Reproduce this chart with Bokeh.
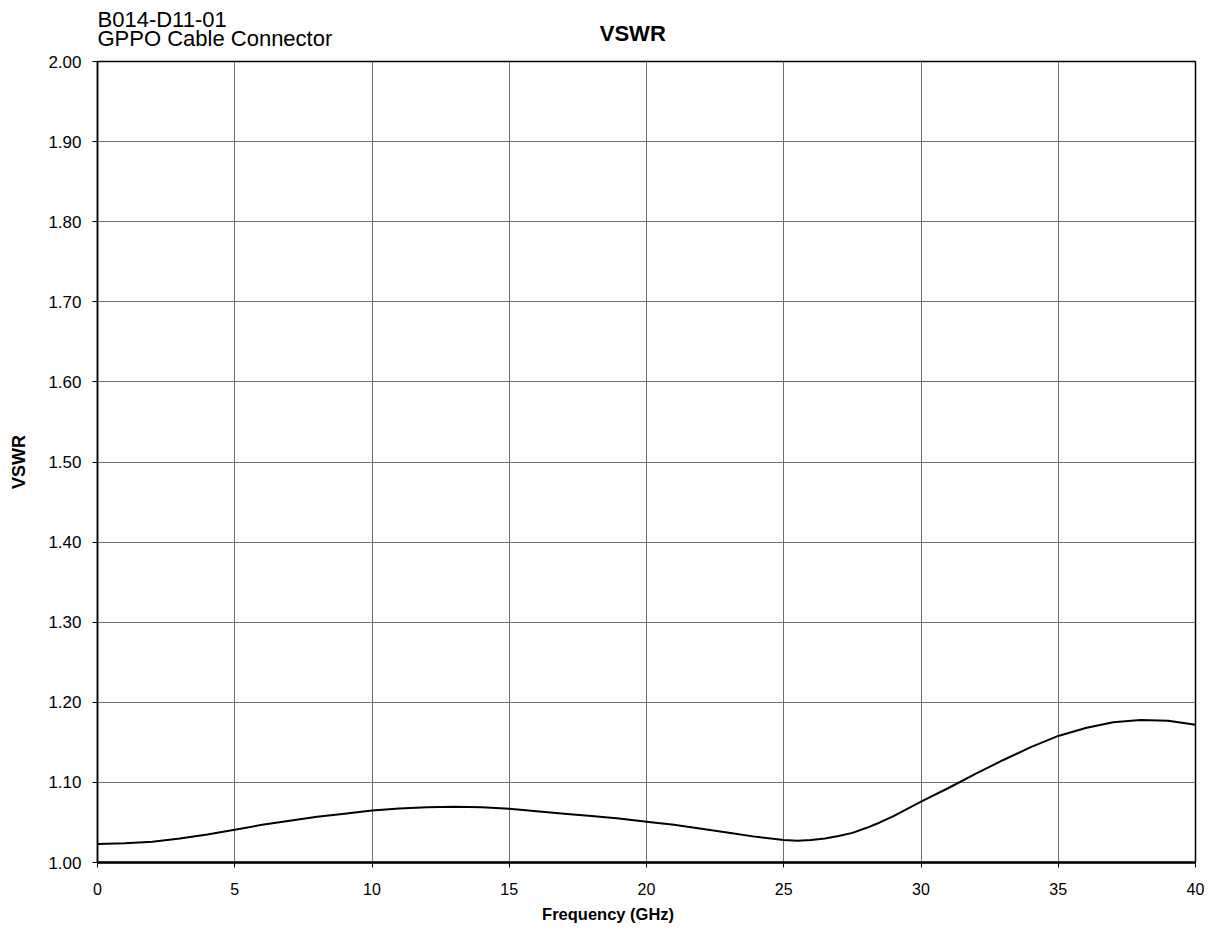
from bokeh.plotting import figure
from bokeh.layouts import column
from bokeh.models import FixedTicker, NumeralTickFormatter, Range1d
from bokeh.core.properties import value
from bokeh.embed import file_html
from bokeh.resources import INLINE

# Data
freq_ghz = [0, 1, 2, 3, 4, 5, 6, 7, 8, 9, 10, 11, 12, 13, 14, 15, 16, 17, 18, 19,
            20, 21, 22, 23, 24, 25, 25.5, 26, 26.5, 27, 27.5, 28, 28.5, 29, 29.5,
            30, 31, 32, 33, 34, 35, 36, 37, 38, 39, 40]
vswr = [1.023, 1.024, 1.026, 1.030, 1.035, 1.041, 1.047, 1.052, 1.057, 1.061,
        1.065, 1.0675, 1.069, 1.0695, 1.069, 1.067, 1.064, 1.061, 1.058, 1.055,
        1.051, 1.047, 1.042, 1.037, 1.032, 1.028, 1.027, 1.028, 1.030, 1.033,
        1.037, 1.043, 1.050, 1.058, 1.067, 1.076, 1.093, 1.111, 1.128, 1.144,
        1.158, 1.168, 1.175, 1.178, 1.177, 1.172]
x_ticks = [0, 5, 10, 15, 20, 25, 30, 35, 40]
y_ticks = [1.0, 1.1, 1.2, 1.3, 1.4, 1.5, 1.6, 1.7, 1.8, 1.9, 2.0]
title_text = "VSWR"
subtitle_lines = ["B014-D11-01", "GPPO Cable Connector"]
x_label = "Frequency (GHz)"
y_label = "VSWR"

FONT = "Liberation Sans"
W = 1207
LEFT = 97
RIGHT = 12
HEADER_H = 51
MAIN_TOP = 10


def blank(height):
    f = figure(width=W, height=height, output_backend="svg", toolbar_location=None,
               x_range=Range1d(0, 40), y_range=Range1d(0, height),
               x_axis_location=None, y_axis_location=None,
               min_border_left=LEFT, min_border_right=RIGHT,
               min_border_top=0, min_border_bottom=0)
    f.outline_line_color = None
    f.xgrid.visible = False
    f.ygrid.visible = False
    f.background_fill_color = "white"
    f.border_fill_color = "white"
    return f


# ---- header (title + subtitle lines) ----
header = blank(HEADER_H)
header.text(x=[0], y=[32], text=[subtitle_lines[0]], text_font=value(FONT),
            text_font_size="22px", text_align="left", text_baseline="alphabetic",
            text_color="black")
header.text(x=[0], y=[13], text=[subtitle_lines[1]], text_font=value(FONT),
            text_font_size="22px", text_align="left", text_baseline="alphabetic",
            text_color="black")
header.text(x=[19.5], y=[18], text=[title_text], text_font=value(FONT),
            text_font_style="bold", text_font_size="22px", text_align="center",
            text_baseline="alphabetic", text_color="black")

# ---- main plot ----
p = figure(width=W, height=MAIN_TOP + 801 + 42, output_backend="svg",
           toolbar_location=None,
           x_range=Range1d(0, 40), y_range=Range1d(1.0, 2.0),
           min_border_left=LEFT, min_border_top=MAIN_TOP, min_border_bottom=42,
           min_border_right=RIGHT)
p.background_fill_color = "white"
p.border_fill_color = "white"
p.outline_line_color = "black"
p.outline_line_width = 1.5

p.line(freq_ghz, vswr, line_color="black", line_width=2, line_join="round")

for g in (p.xgrid, p.ygrid):
    g.grid_line_color = "#6e6e6e"
    g.grid_line_width = 1
p.xgrid.ticker = FixedTicker(ticks=x_ticks)
p.ygrid.ticker = FixedTicker(ticks=y_ticks)

p.xaxis.ticker = FixedTicker(ticks=x_ticks)
p.yaxis.ticker = FixedTicker(ticks=y_ticks)
p.yaxis.formatter = NumeralTickFormatter(format="0.00")
for ax in (p.xaxis[0], p.yaxis[0]):
    ax.axis_line_color = "black"
    ax.major_tick_line_color = "black"
    ax.major_tick_out = 5
    ax.major_tick_in = 0
    ax.minor_tick_line_color = None
    ax.major_label_text_font = FONT
    ax.major_label_text_color = "black"
p.xaxis.axis_line_width = 2.5
p.yaxis.axis_line_width = 1.5
p.xaxis.major_label_text_font_size = "16px"
p.yaxis.major_label_text_font_size = "17px"
p.xaxis.major_label_standoff = 15
p.yaxis.major_label_standoff = 11

p.yaxis.axis_label = y_label
p.yaxis.axis_label_text_font = FONT
p.yaxis.axis_label_text_font_style = "bold"
p.yaxis.axis_label_text_font_size = "18px"
p.yaxis.axis_label_text_color = "black"
p.yaxis.axis_label_standoff = 16

# ---- footer (x axis label, off-centre as in the reference) ----
footer = blank(30)
footer.text(x=[18.6], y=[21], text=[x_label], text_font=value(FONT),
            text_font_style="bold", text_font_size="16.5px", text_align="center",
            text_baseline="alphabetic", text_color="black")

layout = column(header, p, footer, spacing=0)
open("out.html", "w").write(file_html(layout, INLINE))
